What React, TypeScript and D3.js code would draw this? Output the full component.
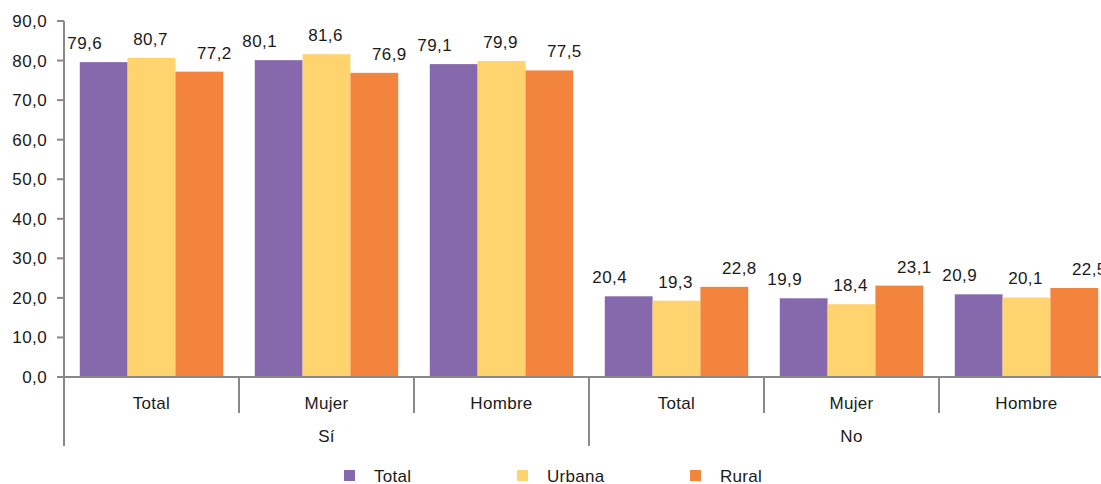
import React from 'react';
import * as d3 from 'd3';

// categories (two-level x axis)
const outerCats = ['Sí', 'No'];
const innerCats = ['Total', 'Mujer', 'Hombre'];
const seriesNames = ['Total', 'Urbana', 'Rural'];
const seriesColors = ['#8669ad', '#ffd46e', '#f3843e'];

// values per series, in order Sí-Total, Sí-Mujer, Sí-Hombre, No-Total, No-Mujer, No-Hombre
const totalValues = [79.6, 80.1, 79.1, 20.4, 19.9, 20.9];
const urbanaValues = [80.7, 81.6, 79.9, 19.3, 18.4, 20.1];
const ruralValues = [77.2, 76.9, 77.5, 22.8, 23.1, 22.5];

const yTicks = [0, 10, 20, 30, 40, 50, 60, 70, 80, 90];

const W = 1101;
const H = 484;
const margin = {top: 21, left: 64, bottom: 107};
const groupW = 175;

const App = () => {
    const series = [totalValues, urbanaValues, ruralValues];
    const groups = outerCats.flatMap((o) => innerCats.map((c) => o + '|' + c));

    const plotBottom = H - margin.bottom;
    const y = d3.scaleLinear().domain([0, 90]).range([plotBottom, margin.top]);

    const x0 = d3.scaleBand()
        .domain(groups)
        .range([margin.left, margin.left + groupW * groups.length])
        .padding(0);
    const x1 = d3.scaleBand()
        .domain(seriesNames)
        .range([0, x0.bandwidth()])
        .paddingInner(0)
        .paddingOuter(0.33);

    // data labels sit a bit left / right depending on series (as in the original)
    const labelShift = [-19, -1, 15];
    const fmt = (v: number) => d3.format('.1f')(v).replace('.', ',');
    const axisColor = '#898989';
    const font = 'Liberation Sans, Arial, sans-serif';
    const xEnd = margin.left + groupW * groups.length;

    return (
        <svg width={W} height={H} style={{position: 'absolute', left: 0, top: 0}}
            fontFamily={font} fill="#1a1a1a">
            {/* bars */}
            {series.map((vals, si) => (
                <g key={si}>
                    {vals.map((v, gi) => {
                        const bx = (x0(groups[gi]) as number) + (x1(seriesNames[si]) as number);
                        return (
                            <rect key={gi} x={bx} y={y(v)} width={x1.bandwidth()}
                                height={plotBottom - y(v)} fill={seriesColors[si]} />
                        );
                    })}
                </g>
            ))}

            {/* value labels */}
            {series.map((vals, si) => (
                <g key={'l' + si}>
                    {vals.map((v, gi) => {
                        const cx = (x0(groups[gi]) as number) + (x1(seriesNames[si]) as number)
                            + x1.bandwidth() / 2 + labelShift[si];
                        return (
                            <text key={gi} x={cx} y={y(v) - 13} textAnchor="middle"
                                fontSize={17} letterSpacing={0.4}>{fmt(v)}</text>
                        );
                    })}
                </g>
            ))}

            {/* y axis */}
            <line x1={margin.left} x2={margin.left} y1={margin.top} y2={446}
                stroke={axisColor} strokeWidth={2} />
            {yTicks.map((t) => (
                <g key={t}>
                    <line x1={margin.left - 7} x2={margin.left} y1={y(t)} y2={y(t)}
                        stroke={axisColor} strokeWidth={2} />
                    <text x={47} y={y(t)} dy="0.35em" textAnchor="end" fontSize={17}
                        letterSpacing={0.4}>{fmt(t)}</text>
                </g>
            ))}

            {/* x axis */}
            <line x1={margin.left} x2={xEnd} y1={plotBottom} y2={plotBottom}
                stroke={axisColor} strokeWidth={2} />
            {groups.map((g, gi) => {
                const gx = x0(g) as number;
                const isOuterEdge = gi % innerCats.length === 0;
                return (
                    <g key={g}>
                        {gi > 0 && (
                            <line x1={gx} x2={gx} y1={plotBottom} y2={isOuterEdge ? 446 : 413}
                                stroke={axisColor} strokeWidth={2} />
                        )}
                        <text x={gx + x0.bandwidth() / 2} y={409} textAnchor="middle"
                            fontSize={17} letterSpacing={0.3}>{g.split('|')[1]}</text>
                    </g>
                );
            })}
            {outerCats.map((o, oi) => {
                const start = x0(o + '|' + innerCats[0]) as number;
                const cx = start + (x0.bandwidth() * innerCats.length) / 2;
                return (
                    <text key={o} x={cx} y={442} textAnchor="middle" fontSize={17}
                        letterSpacing={0.3}>{o}</text>
                );
            })}

            {/* legend */}
            {seriesNames.map((s, si) => {
                const lx = 344 + si * 173;
                return (
                    <g key={s}>
                        <rect x={lx} y={470} width={11} height={11} fill={seriesColors[si]} />
                        <text x={lx + 30} y={482} fontSize={17} letterSpacing={0.3}>{s}</text>
                    </g>
                );
            })}
        </svg>
    );
};

export default App;
